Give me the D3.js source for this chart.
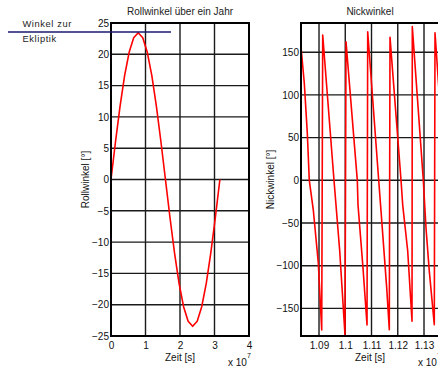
<!DOCTYPE html>
<html><head><meta charset="utf-8">
<script src="https://cdn.jsdelivr.net/npm/d3@7"></script>
<style>
html,body{margin:0;padding:0;background:#fff;}
svg{display:block;}
text{font-family:"Liberation Sans",Arial,sans-serif;}
</style></head>
<body>
<svg id="c" width="438" height="368"></svg>
<script>
// ---- data ----
const rollTime = [0,0.1315e7,0.263e7,0.3945e7,0.526e7,0.6575e7,0.789e7,0.9205e7,1.052e7,1.1835e7,1.315e7,1.4465e7,1.578e7,1.7095e7,1.841e7,1.9725e7,2.104e7,2.2355e7,2.367e7,2.4985e7,2.63e7,2.7615e7,2.893e7,3.0245e7,3.156e7];
const rollAngle = [0,6.07,11.73,16.58,20.31,22.65,23.45,22.65,20.31,16.58,11.73,6.07,0,-6.07,-11.73,-16.58,-20.31,-22.65,-23.45,-22.65,-20.31,-16.58,-11.73,-6.07,0];
const rollXTicks = [0,1e7,2e7,3e7,4e7];
const rollXTickLabels = ["0","1","2","3","4"];
const rollYTicks = [-25,-20,-15,-10,-5,0,5,10,15,20,25];

const nickTime = [1.08314e7,1.0844e7,1.08554e7,1.0863e7,1.08783e7,1.08973e7,1.09103e7,
  1.09141e7,1.09571e7,1.09789e7,1.0999e7,
  1.10029e7,1.10459e7,1.10486e7,1.10676e7,1.10829e7,
  1.10855e7,1.11274e7,1.11362e7,1.11579e7,1.11678e7,
  1.11705e7,1.12124e7,1.12189e7,1.12379e7,1.12543e7,
  1.12554e7,1.12973e7,1.13076e7,1.13202e7,1.13392e7,
  1.13419e7,1.13571e7];
const nickAngle = [156.4,113.6,55.4,0,-34.8,-96.8,-175.3,
  170.1,0,-82.8,-181,
  162.3,0,-29,-102.7,-169.4,
  174,0,-36,-126,-175,
  167.4,0,-29,-82.8,-165,
  179.9,0,-55.9,-106.6,-169,
  172.8,105];
const nickXTicks = [1.09e7,1.10e7,1.11e7,1.12e7,1.13e7];
const nickXTickLabels = ["1.09","1.1","1.11","1.12","1.13"];
const nickYTicks = [-150,-100,-50,0,50,100,150];

const svg = d3.select("#c");
svg.append("rect").attr("width",438).attr("height",368).attr("fill","#fff");

function panel(o){
  const x = d3.scaleLinear().domain(o.xDomain).range([o.left,o.right]);
  const y = d3.scaleLinear().domain(o.yDomain).range([o.bottom,o.top]);
  const g = svg.append("g");
  // grid
  g.selectAll(".gx").data(o.xTicks).join("line")
    .attr("x1",d=>x(d)).attr("x2",d=>x(d)).attr("y1",o.top).attr("y2",o.bottom)
    .attr("stroke","#1a1a1a").attr("stroke-width",1.4);
  g.selectAll(".gy").data(o.yTicks).join("line")
    .attr("x1",o.left).attr("x2",o.right).attr("y1",d=>y(d)).attr("y2",d=>y(d))
    .attr("stroke","#1a1a1a").attr("stroke-width",1.4);
  // curve
  const line = d3.line().x(d=>x(d[0])).y(d=>y(d[1]));
  g.append("path").datum(d3.zip(o.xs,o.ys)).attr("d",line)
    .attr("fill","none").attr("stroke","#ff0000").attr("stroke-width",1.6)
    .attr("stroke-linejoin","round");
  // box
  g.append("rect").attr("x",o.left).attr("y",o.top)
    .attr("width",o.right-o.left).attr("height",o.bottom-o.top)
    .attr("fill","none").attr("stroke","#000").attr("stroke-width",2);
  // axes labels
  const ay = g.append("g").attr("transform",`translate(${o.left},0)`)
    .call(d3.axisLeft(y).tickValues(o.yTicks).tickSize(0).tickPadding(2).tickFormat(d3.format("d")));
  const ax = g.append("g").attr("transform",`translate(0,${o.bottom})`)
    .call(d3.axisBottom(x).tickValues(o.xTicks).tickSize(0).tickPadding(6).tickFormat((d,i)=>o.xTickLabels[i]));
  [ay,ax].forEach(a=>{
    a.select(".domain").remove();
    a.selectAll("text").attr("font-size",10).attr("fill","#111")
      .attr("font-family","'Liberation Sans',Arial,sans-serif");
  });
  // title
  g.append("text").attr("x",(o.left+o.right)/2).attr("y",15).attr("text-anchor","middle")
    .attr("font-size",10).attr("fill","#222").text(o.title);
  // y label
  g.append("text").attr("transform",`translate(${o.ylabX},${(o.top+o.bottom)/2}) rotate(-90)`)
    .attr("text-anchor","middle").attr("font-size",10).attr("fill","#111").text(o.ylabel);
  // x label
  g.append("text").attr("x",(o.left+o.right)/2).attr("y",361).attr("text-anchor","middle")
    .attr("font-size",10).attr("fill","#111").text("Zeit [s]");
  // exponent
  const ex = g.append("text").attr("x",o.expX).attr("y",366).attr("font-size",10).attr("fill","#111");
  ex.append("tspan").text("x 10");
  ex.append("tspan").attr("dy",-8).attr("font-size",7).text("7");
}

panel({xDomain:[0,4e7],yDomain:[-25,25],left:111,right:249,top:23,bottom:336,
  xTicks:rollXTicks,xTickLabels:rollXTickLabels,yTicks:rollYTicks,
  xs:rollTime,ys:rollAngle,title:"Rollwinkel über ein Jahr",ylabel:"Rollwinkel [°]",ylabX:88.5,expX:228});
panel({xDomain:[1.08314e7,1.13571e7],yDomain:[-182.3,184.2],left:301,right:439,top:23,bottom:336,
  xTicks:nickXTicks,xTickLabels:nickXTickLabels,yTicks:nickYTicks,
  xs:nickTime,ys:nickAngle,title:"Nickwinkel",ylabel:"Nickwinkel [°]",ylabX:273.5,expX:418});

// annotation
svg.append("line").attr("x1",8).attr("x2",171).attr("y1",32).attr("y2",32)
  .attr("stroke","#1a1a70").attr("stroke-width",1.3);
svg.append("text").attr("x",22.5).attr("y",27).attr("font-size",9.3).attr("letter-spacing",0.6)
  .attr("fill","#222").text("Winkel zur");
svg.append("text").attr("x",22.5).attr("y",41.5).attr("font-size",9.3).attr("letter-spacing",0.6)
  .attr("fill","#222").text("Ekliptik");
</script>
</body></html>
